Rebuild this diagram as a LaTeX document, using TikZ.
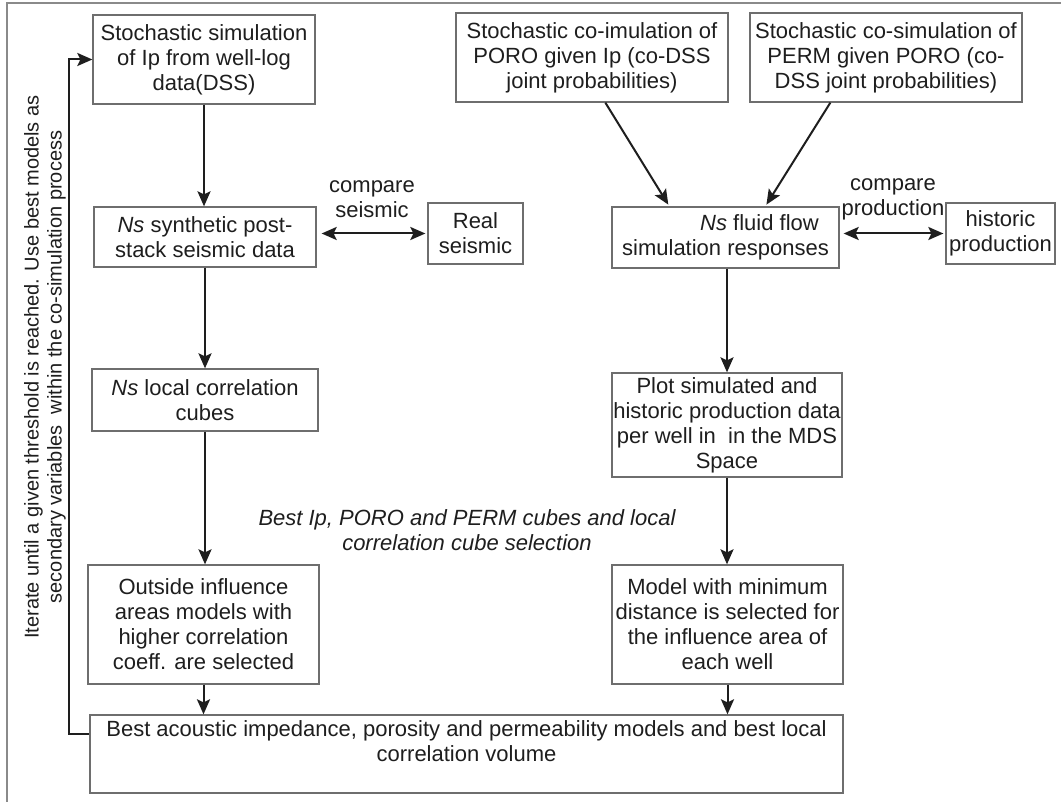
\documentclass[tikz,border=0pt]{standalone}
\usepackage{fontspec}
\setmainfont{Liberation Sans}
\usetikzlibrary{arrows.meta,calc}
\definecolor{boxline}{HTML}{6E6E6E}
\definecolor{ink}{HTML}{1E1E1E}
\definecolor{framegray}{HTML}{8A8A8A}

\tikzset{
  box/.style={draw=boxline, line width=1.3pt, rectangle, align=center,
    inner sep=1pt, text=ink, font=\fontsize{22}{25}\selectfont},
  arr/.style={draw=ink, line width=2pt,
    -{Stealth[length=15pt,width=13pt,inset=3pt]}},
  dblarr/.style={draw=ink, line width=2pt,
    {Stealth[length=15pt,width=13pt,inset=3pt]}-{Stealth[length=15pt,width=13pt,inset=3pt]}},
  lbl/.style={align=center, text=ink, inner sep=0pt,
    font=\fontsize{22}{25}\selectfont},
}

\begin{document}
\begin{tikzpicture}[x=1pt,y=-1pt]
\useasboundingbox (0,0) rectangle (1061,802);
\fill[white] (0,0) rectangle (1061,802);

% outer frame (top and left edges)
\draw[framegray, line width=2pt] (7,802) -- (7,3) -- (1061,3);

% left column
\node[box, minimum width=222pt, minimum height=89pt] (A) at (204,59.5)
  {Stochastic simulation\\of Ip from well-log\\data(DSS)};
\node[box, minimum width=222pt, minimum height=60pt] (B) at (205,237)
  {\textit{Ns} synthetic post-\\stack seismic data};
\node[box, minimum width=95pt, minimum height=61pt] (RS) at (475.5,233.5)
  {Real\\seismic};
\node[box, minimum width=226pt, minimum height=62pt] (C) at (205,400)
  {\textit{Ns} local correlation\\cubes};
\node[box, minimum width=231pt, minimum height=119pt] (D) at (203.5,624.5)
  {Outside influence\\areas models with\\higher correlation\\coeff. are selected};

% right column
\node[box, minimum width=272pt, minimum height=89pt] (F) at (592,57.5)
  {Stochastic co-imulation of\\PORO given Ip (co-DSS\\joint probabilities)};
\node[box, minimum width=272pt, minimum height=89pt] (G) at (886,57.5)
  {Stochastic co-simulation of\\PERM given PORO (co-\\DSS joint probabilities)};
\node[box, minimum width=227pt, minimum height=61pt] (H) at (725.5,237.5)
  {\hspace*{68pt}\textit{Ns} fluid flow\\simulation responses};
\node[box, minimum width=109pt, minimum height=61pt] (HP) at (1000.5,233.5)
  {historic\\production};
\node[box, minimum width=230pt, minimum height=104pt] (I) at (727,425)
  {Plot simulated and\\historic production data\\per well in\ \ in the MDS\\Space};
\node[box, minimum width=231pt, minimum height=119pt] (J) at (727.5,624.5)
  {Model with minimum\\distance is selected for\\the influence area of\\each well};

% final result box
\node[box, minimum width=753pt, minimum height=78pt] (E) at (466.5,754)
  {Best acoustic impedance, porosity and permeability models and best local\\correlation volume\\\mbox{}};

% labels
\node[lbl] (cmpS) at (372,199.5) {compare\\seismic};
\node[lbl] (cmpP) at (893,199.5) {compare\\production};
\node[lbl, font=\fontsize{22}{25}\itshape] (sel) at (467,530)
  {Best Ip, PORO and PERM cubes and local\\correlation cube selection};
\node[lbl, rotate=90, font=\fontsize{20}{23}\selectfont] (iter) at (45,367)
  {Iterate until a given threshold is reached. Use best models as\\secondary variables\ \ within the co-simulation process};

% connectors, left column
\draw[arr] (A.south) -- (A.south |- B.north);
\draw[arr] (C.north |- B.south) -- (C.north);
\draw[arr] (C.south) -- (C.south |- D.north);
\draw[arr] (D.south) -- (D.south |- E.north);
\draw[dblarr, shorten <=5pt, shorten >=2pt] (B.east |- RS.west) -- (RS.west);

% connectors, right column
\draw[arr, shorten >=2pt] ($(F.south west)+(150,0)$) -- ($(H.north west)+(58,0)$);
\draw[arr, shorten >=2pt] ($(G.south west)+(81,0)$) -- ($(H.north west)+(154,0)$);
\draw[arr] (I.north |- H.south) -- (I.north);
\draw[arr] (I.south) -- (I.south |- J.north);
\draw[arr] (J.south) -- (J.south |- E.north);
\draw[dblarr, shorten <=4pt, shorten >=2pt] (H.east |- HP.west) -- (HP.west);

% iteration loop back to the first simulation
\draw[arr] ($(E.north west)+(0,20)$) -- ++(-20,0) |- (A.west);
\end{tikzpicture}
\end{document}
